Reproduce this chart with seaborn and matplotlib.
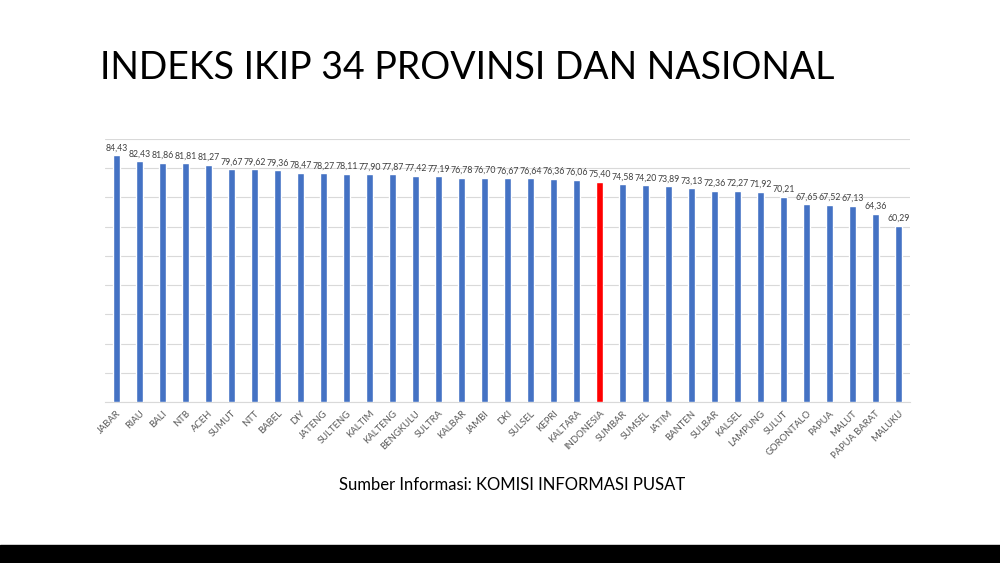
import seaborn as sns
import matplotlib.pyplot as plt
import matplotlib.patches as mpatches
import pandas as pd

# IKIP index per province (plus national value)
provinces = [
    "JABAR", "RIAU", "BALI", "NTB", "ACEH", "SUMUT", "NTT", "BABEL", "DIY",
    "JATENG", "SULTENG", "KALTIM", "KALTENG", "BENGKULU", "SULTRA", "KALBAR",
    "JAMBI", "DKI", "SULSEL", "KEPRI", "KALTARA", "INDONESIA", "SUMBAR",
    "SUMSEL", "JATIM", "BANTEN", "SULBAR", "KALSEL", "LAMPUNG", "SULUT",
    "GORONTALO", "PAPUA", "MALUT", "PAPUA BARAT", "MALUKU",
]
scores = [
    84.43, 82.43, 81.86, 81.81, 81.27, 79.67, 79.62, 79.36, 78.47,
    78.27, 78.11, 77.90, 77.87, 77.42, 77.19, 76.78,
    76.70, 76.67, 76.64, 76.36, 76.06, 75.40, 74.58,
    74.20, 73.89, 73.13, 72.36, 72.27, 71.92, 70.21,
    67.65, 67.52, 67.13, 64.36, 60.29,
]
highlight = "INDONESIA"

df = pd.DataFrame({"Provinsi": provinces, "Indeks": scores})
colors = ["#FF0000" if p == highlight else "#4472C4" for p in provinces]

sns.set_style("white")
plt.rcParams["font.family"] = ["Lato", "DejaVu Sans"]

fig = plt.figure(figsize=(10, 5.63), dpi=100)
ax = fig.add_axes([0.105, 0.286, 0.805, 0.467])

sns.barplot(data=df, x="Provinsi", y="Indeks", hue="Provinsi",
            palette=colors, legend=False, width=0.34, saturation=1,
            ax=ax, zorder=3)

ax.set_ylim(0, 90)
ax.set_yticks(range(0, 91, 10))
ax.yaxis.grid(True, color="#D9D9D9", linewidth=0.8, zorder=0)
ax.set_yticklabels([])
ax.tick_params(axis="y", length=0)
ax.tick_params(axis="x", length=0, pad=5)
ax.set_xlim(-0.5, len(provinces) - 0.5)
for s in ["top", "right", "left"]:
    ax.spines[s].set_visible(False)
ax.spines["bottom"].set_color("#D9D9D9")
ax.set_xlabel("")
ax.set_ylabel("")

for lbl in ax.get_xticklabels():
    lbl.set_rotation(45)
    lbl.set_ha("right")
    lbl.set_rotation_mode("anchor")
    lbl.set_fontsize(6.8)
    lbl.set_color("#595959")

for container in ax.containers:
    ax.bar_label(container, labels=[f"{v:.2f}".replace(".", ",") for v in container.datavalues],
                 fontsize=6.3, color="#404040", padding=2)

fig.text(0.1, 0.88, "INDEKS IKIP 34 PROVINSI DAN NASIONAL", fontsize=27,
         color="#000000", ha="left", va="center")
fig.text(0.512, 0.138, "Sumber Informasi: KOMISI INFORMASI PUSAT", fontsize=12,
         color="#000000", ha="center", va="center")

# black band at the bottom of the slide
fig.patches.append(mpatches.Rectangle((0, 0), 1, 0.032, transform=fig.transFigure,
                                      color="black", zorder=0))

fig.savefig("out.png", dpi=100)
plt.close()
